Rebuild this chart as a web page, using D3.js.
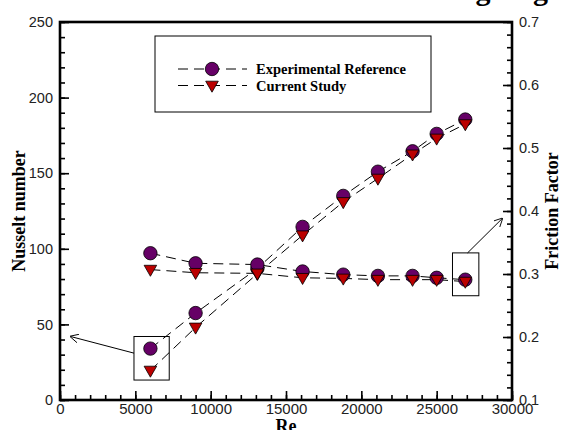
<!DOCTYPE html>
<html>
<head>
<meta charset="utf-8">
<script src="https://cdn.jsdelivr.net/npm/d3@7"></script>
<style>
  body { margin: 0; background: #fff; }
  svg { display: block; font-family: "Liberation Serif", "DejaVu Serif", serif; }
</style>
</head>
<body>
<script>
// data
const re_values = [6000, 9000, 13100, 16100, 18800, 21100, 23400, 25000, 26900];
const nusselt_exp = [34, 57.5, 87, 114.5, 135, 151, 164.5, 176, 185.5];
const nusselt_cur = [19.5, 48, 83.5, 109, 131, 146.5, 162.5, 173, 182.5];
const friction_exp = [0.333, 0.317, 0.315, 0.304, 0.299, 0.297, 0.297, 0.294, 0.291];
const friction_cur = [0.307, 0.302, 0.301, 0.294, 0.293, 0.291, 0.291, 0.291, 0.288];
const x_ticks = [0, 5000, 10000, 15000, 20000, 25000, 30000];
const left_ticks = [0, 50, 100, 150, 200, 250];
const right_ticks = [0.1, 0.2, 0.3, 0.4, 0.5, 0.6, 0.7];
const legend_labels = ["Experimental Reference", "Current Study"];

const WIDTH = 566, HEIGHT = 430;
const m = {left: 60, right: 512, top: 22, bottom: 400};

const svg = d3.select("body").append("svg")
    .attr("width", WIDTH)
    .attr("height", HEIGHT);

const x = d3.scaleLinear().domain([0, 30000]).range([m.left, m.right]);
const y_nu = d3.scaleLinear().domain([0, 250]).range([m.bottom, m.top]);
const y_f = d3.scaleLinear().domain([0.1, 0.7]).range([m.bottom, m.top]);

// title, mostly cut off by the top edge
svg.append("text")
    .attr("x", 548).attr("y", 0)
    .attr("text-anchor", "end")
    .style("font-size", "30px").style("font-weight", "bold")
    .text("Validating Log");

// axes, ticks pointing inward
const add_axis = function (axis, tx, ty, font_size) {
    const g = svg.append("g")
        .attr("transform", "translate(" + tx + "," + ty + ")")
        .call(axis);
    g.select(".domain").remove();
    g.selectAll("line").attr("stroke", "#000").attr("stroke-width", 1.6);
    if (!font_size) g.selectAll("text").remove();
    else g.selectAll("text").style("font-size", font_size).attr("fill", "#222");
    return g;
};

add_axis(d3.axisBottom(x).tickValues(d3.range(0, 30001, 1000)).tickSize(-5).tickFormat(""), 0, m.bottom);
add_axis(d3.axisBottom(x).tickValues(x_ticks).tickSize(-9).tickPadding(3).tickFormat(d3.format("d")), 0, m.bottom, "15px");

add_axis(d3.axisLeft(y_nu).tickValues(d3.range(0, 251, 10)).tickSize(-5).tickFormat(""), m.left, 0);
add_axis(d3.axisLeft(y_nu).tickValues(left_ticks).tickSize(-9).tickPadding(7).tickFormat(d3.format("d")), m.left, 0, "14.5px");

add_axis(d3.axisRight(y_f).tickValues(d3.range(0.1, 0.7001, 0.02)).tickSize(-5).tickFormat(""), m.right, 0);
add_axis(d3.axisRight(y_f).tickValues(right_ticks).tickSize(-9).tickPadding(7).tickFormat(d3.format(".1f")), m.right, 0, "14.5px");

// frame
svg.append("rect")
    .attr("x", m.left).attr("y", m.top)
    .attr("width", m.right - m.left).attr("height", m.bottom - m.top)
    .attr("fill", "none").attr("stroke", "#000").attr("stroke-width", 2.6);

// axis titles
svg.append("text")
    .attr("x", (m.left + m.right) / 2).attr("y", 432)
    .attr("text-anchor", "middle")
    .style("font-size", "18px").style("font-weight", "bold")
    .text("Re");
svg.append("text")
    .attr("transform", "translate(25," + (m.top + m.bottom) / 2 + ") rotate(-90)")
    .attr("text-anchor", "middle")
    .style("font-size", "18px").style("font-weight", "bold")
    .text("Nusselt number");
svg.append("text")
    .attr("transform", "translate(558," + (m.top + m.bottom) / 2 + ") rotate(-90)")
    .attr("text-anchor", "middle")
    .style("font-size", "18px").style("font-weight", "bold")
    .text("Friction Factor");

// series
const PURPLE = "#660066", RED = "#bb0000";
const series = [
    {vals: nusselt_exp, y: y_nu, kind: "circle"},
    {vals: nusselt_cur, y: y_nu, kind: "tri"},
    {vals: friction_exp, y: y_f, kind: "circle"},
    {vals: friction_cur, y: y_f, kind: "tri"}
];

const dashed = line_g => line_g
    .attr("fill", "none")
    .attr("stroke", "#000")
    .attr("stroke-width", 1)
    .attr("stroke-dasharray", "10,6");

series.forEach(s => {
    const line = d3.line().x((d, i) => x(re_values[i])).y(d => s.y(d));
    svg.append("path").attr("d", line(s.vals)).call(dashed);
});

const tri_path = "M-6.3,-4.3L6.3,-4.3L0,6.7Z";

const draw_marker = function (sel, kind) {
    if (kind === "circle") {
        sel.append("circle").attr("r", 6.7)
            .attr("fill", PURPLE).attr("stroke", "#000").attr("stroke-width", 0.8);
    } else {
        sel.append("path").attr("d", tri_path)
            .attr("fill", RED).attr("stroke", "#000").attr("stroke-width", 0.8);
    }
};

["circle", "tri"].forEach(kind => {
    series.filter(s => s.kind === kind).forEach(s => {
        svg.append("g").selectAll("g")
            .data(s.vals)
            .enter()
            .append("g")
            .attr("transform", (d, i) => "translate(" + x(re_values[i]) + "," + s.y(d) + ")")
            .each(function () { draw_marker(d3.select(this), kind); });
    });
});

// annotation boxes and arrows
svg.append("defs").append("marker")
    .attr("id", "head")
    .attr("viewBox", "0 0 10 10")
    .attr("refX", 9).attr("refY", 5)
    .attr("markerWidth", 9).attr("markerHeight", 9)
    .attr("orient", "auto")
    .append("path")
    .attr("d", "M0,0L10,5L0,10")
    .attr("fill", "none").attr("stroke", "#000").attr("stroke-width", 1);

const box = (x0, x1, y0, y1) => svg.append("rect")
    .attr("x", x0).attr("y", y0)
    .attr("width", x1 - x0).attr("height", y1 - y0)
    .attr("fill", "none").attr("stroke", "#000").attr("stroke-width", 1);

const arrow = (x1, y1, x2, y2) => svg.append("line")
    .attr("x1", x1).attr("y1", y1)
    .attr("x2", x2).attr("y2", y2)
    .attr("stroke", "#000").attr("stroke-width", 1)
    .attr("marker-end", "url(#head)");

box(x(4910), x(7250), y_nu(42), y_nu(13.2));
arrow(x(4910), y_nu(31), x(700), y_nu(42));

box(x(26050), x(27800), y_f(0.3335), y_f(0.2655));
arrow(x(27050), y_f(0.3335), x(29350), y_f(0.388));

// legend
const legend = svg.append("g");
legend.append("rect")
    .attr("x", 155).attr("y", 36)
    .attr("width", 276).attr("height", 76)
    .attr("fill", "#fff").attr("stroke", "#000").attr("stroke-width", 1);

legend_labels.forEach((label, i) => {
    const ly = 69 + i * 16.5;
    legend.append("line")
        .attr("x1", 178).attr("x2", 247)
        .attr("y1", ly).attr("y2", ly)
        .call(dashed);
    const mk = legend.append("g").attr("transform", "translate(212," + ly + ")");
    draw_marker(mk, i === 0 ? "circle" : "tri");
    legend.append("text")
        .attr("x", 256).attr("y", ly + 5)
        .style("font-size", "14.5px").style("font-weight", "bold")
        .text(label);
});
</script>
</body>
</html>
